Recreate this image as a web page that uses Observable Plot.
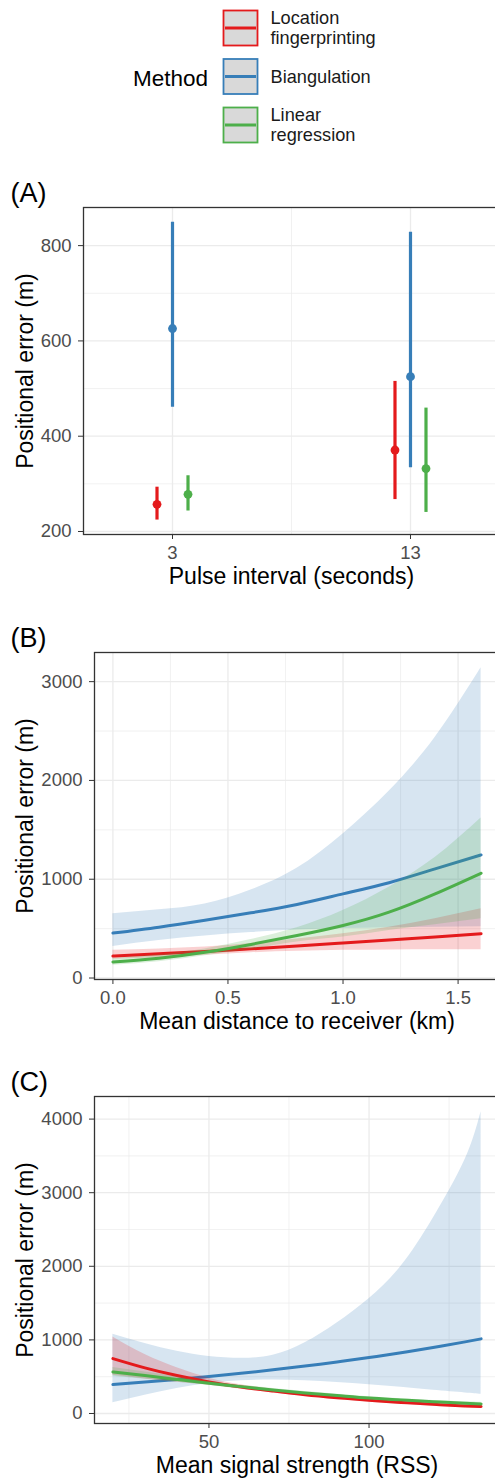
<!DOCTYPE html>
<html><head><meta charset="utf-8">
<script src="https://cdn.jsdelivr.net/npm/d3@7"></script>
<script src="https://cdn.jsdelivr.net/npm/@observablehq/plot@0.6"></script>
<style>
html,body{margin:0;padding:0;background:#fff;overflow:hidden;}
body{width:495px;height:1481px;position:relative;font-family:"Liberation Sans",Arial,Helvetica,sans-serif;}
.panel{position:absolute;left:0;width:500px;}
</style></head><body>
<div id="legend" class="panel" style="top:0"></div>
<div id="pa" class="panel" style="top:165px"></div>
<div id="pb" class="panel" style="top:610px"></div>
<div id="pc" class="panel" style="top:1050px"></div>
<script>
// ---------- shared ----------
const methods = ["Location fingerprinting", "Biangulation", "Linear regression"];
const methodColors = ["#e41a1c", "#377eb8", "#4daf4a"];
const legendTitle = "Method";
const yTitle = "Positional error (m)";

// ---------- Panel A ----------
const pulseIntervals = [3, 13];
const aFingerprintEst = [257, 371], aFingerprintLo = [224, 267], aFingerprintHi = [293, 515];
const aBiangEst = [626, 525], aBiangLo = [461, 334], aBiangHi = [849, 828];
const aLinregEst = [278, 332], aLinregLo = [243, 240], aLinregHi = [317, 459];
const aXTicks = [3, 13], aXMinor = [8];
const aYTicks = [200, 400, 600, 800], aYMinor = [300, 500, 700];

// ---------- Panel B ----------
const bDistance = [0, 0.2, 0.4, 0.6, 0.8, 1.0, 1.2, 1.4, 1.6];
const bFingerprintEst = [222, 245, 268, 295, 323, 354, 385, 415, 448];
const bFingerprintLo  = [189, 205, 230, 255, 270, 280, 284, 286, 287];
const bFingerprintHi  = [280, 295, 315, 350, 395, 448, 515, 600, 700];
const bBiangEst = [455, 515, 585, 660, 745, 852, 965, 1105, 1246];
const bBiangLo  = [320, 380, 425, 460, 485, 500, 510, 515, 520];
const bBiangHi  = [650, 690, 750, 890, 1110, 1458, 1890, 2434, 3141];
const bLinregEst = [162, 200, 260, 340, 430, 532, 667, 852, 1061];
const bLinregLo  = [128, 165, 225, 290, 365, 414, 480, 540, 600];
const bLinregHi  = [195, 235, 295, 390, 510, 683, 920, 1220, 1620];
const bXTicks = [0, 0.5, 1.0, 1.5], bXMinor = [0.25, 0.75, 1.25];
const bYTicks = [0, 1000, 2000, 3000], bYMinor = [500, 1500, 2500];

// ---------- Panel C ----------
const cSignal = [20, 30, 40, 50, 60, 70, 80, 90, 100, 110, 120, 130, 135];
const cFingerprintEst = [746, 620, 515, 429, 360, 305, 255, 215, 180, 150, 125, 103, 95];
const cFingerprintLo  = [520, 470, 425, 385, 330, 280, 235, 190, 155, 125, 100, 78, 68];
const cFingerprintHi  = [1040, 800, 620, 480, 390, 330, 280, 240, 205, 175, 150, 132, 125];
const cBiangEst = [393, 427, 463, 503, 546, 593, 644, 700, 760, 825, 896, 973, 1014];
const cBiangLo  = [145, 249, 339, 407, 445, 455, 445, 420, 390, 355, 315, 280, 262];
const cBiangHi  = [1076, 950, 845, 775, 750, 790, 960, 1230, 1560, 2000, 2650, 3450, 4100];
const cLinregEst = [565, 515, 462, 410, 365, 320, 280, 245, 210, 185, 160, 140, 130];
const cLinregLo  = [505, 465, 425, 385, 345, 300, 262, 228, 192, 168, 143, 120, 110];
const cLinregHi  = [625, 565, 500, 435, 385, 340, 298, 262, 228, 200, 178, 160, 152];
const cXTicks = [50, 100], cXMinor = [25, 75, 125];
const cYTicks = [0, 1000, 2000, 3000, 4000], cYMinor = [500, 1500, 2500, 3500];

// ---------- helpers ----------
const FONT = '"Liberation Sans", Arial, Helvetica, sans-serif';
const GRID = "#ebebeb";
function rows(xs, est, lo, hi) {
  return xs.map((x, i) => ({x, est: est[i], lo: lo[i], hi: hi[i]}));
}
function panel(el, o) {
  const chart = Plot.plot({
    width: 500, height: o.height,
    marginLeft: o.marginLeft, marginRight: 1, marginTop: o.marginTop, marginBottom: o.marginBottom,
    x: {domain: o.xDomain}, y: {domain: o.yDomain},
    style: {fontFamily: FONT, fontSize: "18.5px", background: "transparent", overflow: "visible"},
    marks: [
      Plot.gridY(o.yMinor, {stroke: GRID, strokeOpacity: 1, strokeWidth: 0.7}),
      Plot.gridX(o.xMinor, {stroke: GRID, strokeOpacity: 1, strokeWidth: 0.7}),
      Plot.gridY(o.yTicks, {stroke: GRID, strokeOpacity: 1, strokeWidth: 1.3}),
      Plot.gridX(o.xTicks, {stroke: GRID, strokeOpacity: 1, strokeWidth: 1.3}),
      ...o.marks,
      Plot.frame({stroke: "#333", strokeWidth: 1.3}),
      Plot.axisY(o.yTicks, {tickSize: 5, tickPadding: 7, tickFormat: d3.format("d"), fill: "#4d4d4d", stroke: "#333", fontSize: 18.5, label: null}),
      Plot.axisX(o.xTicks, {tickSize: 5, tickPadding: 6, tickFormat: o.xFormat, fill: "#4d4d4d", stroke: "#333", fontSize: 18.5, label: null}),
      Plot.text([yTitle], {text: d => d, frameAnchor: "left", textAnchor: "middle", lineAnchor: "middle", rotate: -90, dx: 25 - o.marginLeft, fontSize: 23, fill: "#000"}),
      Plot.text([o.xTitle], {text: d => d, frameAnchor: "bottom", textAnchor: "middle", lineAnchor: "middle", dy: 42.5, fontSize: 23, fill: "#000"}),
      Plot.text([o.tag], {text: d => d, frameAnchor: "top-left", textAnchor: "start", lineAnchor: "middle", dx: 10 - o.marginLeft, dy: -14, fontSize: 27, fill: "#000"})
    ]
  });
  document.getElementById(el).appendChild(chart);
}

// ---------- Legend ----------
(function () {
  const svg = d3.select("#legend").append("svg").attr("width", 495).attr("height", 160)
    .style("font-family", FONT);
  svg.append("text").attr("x", 133).attr("y", 78).attr("dominant-baseline", "central")
    .attr("font-size", 22.5).attr("fill", "#000").text(legendTitle);
  methods.forEach((m, i) => {
    const cy = 28 + i * 48.5;
    const g = svg.append("g");
    g.append("rect").attr("x", 223.5).attr("y", cy - 17.5).attr("width", 34).attr("height", 35)
      .attr("fill", "#d9d9d9").attr("stroke", methodColors[i]).attr("stroke-width", 1.8);
    g.append("line").attr("x1", 225).attr("x2", 256).attr("y1", cy).attr("y2", cy)
      .attr("stroke", methodColors[i]).attr("stroke-width", 3);
    const words = m.split(" ");
    const lines = words.length > 1 ? [words[0], words.slice(1).join(" ")] : [m];
    lines.forEach((ln, j) => {
      g.append("text").attr("x", 270.5).attr("y", cy + (j - (lines.length - 1) / 2) * 20)
        .attr("dominant-baseline", "central").attr("font-size", 18.2).attr("fill", "#1a1a1a").text(ln);
    });
  });
})();

// ---------- Panel A ----------
const aSets = [
  {rows: rows(pulseIntervals, aFingerprintEst, aFingerprintLo, aFingerprintHi), color: methodColors[0], dx: -15.5},
  {rows: rows(pulseIntervals, aBiangEst, aBiangLo, aBiangHi), color: methodColors[1], dx: 0},
  {rows: rows(pulseIntervals, aLinregEst, aLinregLo, aLinregHi), color: methodColors[2], dx: 15.5}
];
panel("pa", {
  height: 429, marginLeft: 83, marginTop: 42, marginBottom: 60,
  xDomain: [-0.74, 16.74], yDomain: [193.7, 880],
  xTicks: aXTicks, xMinor: aXMinor, yTicks: aYTicks, yMinor: aYMinor, xFormat: d3.format("d"),
  xTitle: "Pulse interval (seconds)", tag: "(A)",
  marks: aSets.flatMap(s => [
    Plot.ruleX(s.rows, {x: "x", y1: "lo", y2: "hi", stroke: s.color, strokeWidth: 3.2, dx: s.dx}),
    Plot.dot(s.rows, {x: "x", y: "est", r: 4.4, fill: s.color, stroke: "none", dx: s.dx})
  ])
});

// ---------- Panel B & C ----------
function curveMarks(sets) {
  return sets.flatMap(s => [
    Plot.areaY(s.rows, {x: "x", y1: "lo", y2: "hi", fill: s.color, fillOpacity: 0.2, curve: "natural"}),
    Plot.line(s.rows, {x: "x", y: "est", stroke: s.color, strokeWidth: 3, curve: "natural"})
  ]);
}
panel("pb", {
  height: 424, marginLeft: 94, marginTop: 42, marginBottom: 55,
  xDomain: [-0.08, 1.68], yDomain: [-15, 3295],
  xTicks: bXTicks, xMinor: bXMinor, yTicks: bYTicks, yMinor: bYMinor, xFormat: d3.format(".1f"),
  xTitle: "Mean distance to receiver (km)", tag: "(B)",
  marks: curveMarks([
    {rows: rows(bDistance, bBiangEst, bBiangLo, bBiangHi), color: methodColors[1]},
    {rows: rows(bDistance, bFingerprintEst, bFingerprintLo, bFingerprintHi), color: methodColors[0]},
    {rows: rows(bDistance, bLinregEst, bLinregLo, bLinregHi), color: methodColors[2]}
  ])
});
panel("pc", {
  height: 431, marginLeft: 94, marginTop: 46, marginBottom: 58,
  xDomain: [14.25, 140.75], yDomain: [-136, 4307],
  xTicks: cXTicks, xMinor: cXMinor, yTicks: cYTicks, yMinor: cYMinor, xFormat: d3.format("d"),
  xTitle: "Mean signal strength (RSS)", tag: "(C)",
  marks: curveMarks([
    {rows: rows(cSignal, cBiangEst, cBiangLo, cBiangHi), color: methodColors[1]},
    {rows: rows(cSignal, cFingerprintEst, cFingerprintLo, cFingerprintHi), color: methodColors[0]},
    {rows: rows(cSignal, cLinregEst, cLinregLo, cLinregHi), color: methodColors[2]}
  ])
});
</script>
</body></html>
